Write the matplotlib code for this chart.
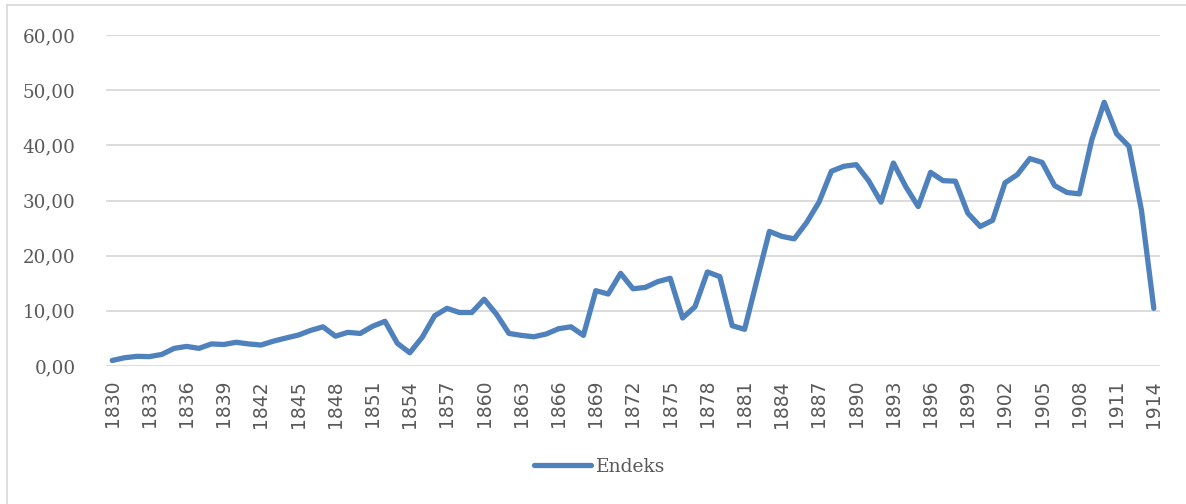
import matplotlib
matplotlib.use("Agg")
import matplotlib.pyplot as plt
from matplotlib.lines import Line2D

years = list(range(1830, 1915))
endeks = [
    1.0, 1.5, 1.75, 1.7, 2.1, 3.2, 3.55, 3.2, 4.0, 3.9,   # 1830-1839
    4.3, 4.0, 3.8, 4.5, 5.07, 5.6, 6.45, 7.1, 5.4, 6.1,   # 1840-1849
    5.9, 7.2, 8.1, 4.1, 2.4, 5.2, 9.1, 10.45, 9.7, 9.7,   # 1850-1859
    12.1, 9.35, 5.9, 5.55, 5.3, 5.8, 6.76, 7.1, 5.55, 13.65,  # 1860-1869
    13.05, 16.8, 14.0, 14.25, 15.3, 15.9, 8.7, 10.75, 17.05, 16.2,  # 1870-1879
    7.3, 6.65, 15.6, 24.4, 23.5, 23.05, 26.0, 29.7, 35.3, 36.2,  # 1880-1889
    36.5, 33.6, 29.7, 36.8, 32.5, 28.9, 35.1, 33.6, 33.5, 27.7,  # 1890-1899
    25.3, 26.4, 33.2, 34.7, 37.6, 36.9, 32.7, 31.45, 31.2, 41.0,  # 1900-1909
    47.8, 42.1, 39.8, 28.3, 10.45,  # 1910-1914
]
yticks = [0, 10, 20, 30, 40, 50, 60]
ytick_labels = ["0,00", "10,00", "20,00", "30,00", "40,00", "50,00", "60,00"]
xtick_years = years[::3]
series_name = "Endeks"

W, H = 1186, 504
fig = plt.figure(figsize=(W / 100, H / 100), dpi=100)
fig.patch.set_facecolor("white")

# chart border (top & left visible)
fig.add_artist(Line2D([7 / W, 7 / W], [0, 1 - 5 / H], transform=fig.transFigure,
                      color="#d9d9d9", lw=1.2))
fig.add_artist(Line2D([7 / W, 1], [1 - 5 / H, 1 - 5 / H], transform=fig.transFigure,
                      color="#d9d9d9", lw=1.2))

left, right = 106 / W, 1160 / W
bottom, top = 1 - 366 / H, 1 - 35 / H
ax = fig.add_axes([left, bottom, right - left, top - bottom])

ax.plot(years, endeks, color="#4f81bd", lw=3.8, solid_joinstyle="round",
        solid_capstyle="round", label=series_name, zorder=3)

ax.set_xlim(1829.5, 1914.5)
ax.set_ylim(0, 60)
ax.set_yticks(yticks)
ax.set_yticklabels(ytick_labels, family="DejaVu Serif", fontsize=13.2, color="#595959")
ax.set_xticks(xtick_years)
ax.set_xticklabels([str(y) for y in xtick_years], rotation=90, family="DejaVu Sans",
                   fontsize=13.5, color="#595959")
ax.tick_params(axis="both", length=0)
ax.tick_params(axis="y", pad=22)
ax.tick_params(axis="x", pad=10)
ax.grid(axis="y", color="#d9d9d9", lw=1.3, zorder=0)
for s in ax.spines.values():
    s.set_visible(False)

leg = fig.legend(handles=[Line2D([0], [0], color="#4f81bd", lw=3.8, solid_capstyle="round")],
                 labels=[series_name], loc="center", bbox_to_anchor=(600 / W, 1 - 467 / H),
                 frameon=False, handlelength=3.0, handletextpad=0.3,
                 prop={"family": "DejaVu Serif", "size": 13.5})
for t in leg.get_texts():
    t.set_color("#595959")

fig.savefig("out.png", dpi=100)
